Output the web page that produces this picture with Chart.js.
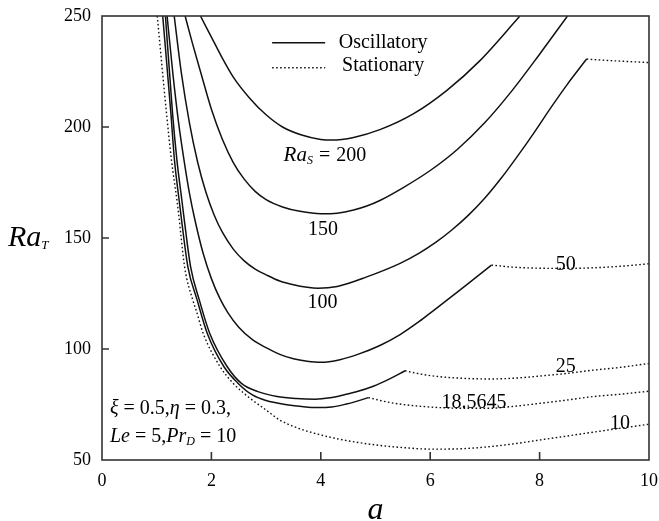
<!DOCTYPE html>
<html><head><meta charset="utf-8">
<script src="https://cdn.jsdelivr.net/npm/chart.js@4.4.0/dist/chart.umd.min.js"></script>
<style>html,body{margin:0;padding:0;background:#fff;}#wrap{width:659px;height:521px;}</style>
</head><body><div id="wrap"><canvas id="c" width="659" height="521"></canvas></div>
<script>
// ---- data (a = wave number, Ra = thermal Rayleigh number) ----
const xTicks = [0, 2, 4, 6, 8, 10];
const yTicks = [50, 100, 150, 200, 250];

const osc200_a  = [1.80, 2.0, 2.2, 2.4, 2.7, 3.0, 3.3, 3.65, 4.0, 4.2, 4.6, 5.08, 5.69, 6.30, 6.91, 7.64];
const osc200_Ra = [250, 240.5, 231, 222.5, 213, 205.5, 200, 196.4, 194.4, 194.1, 195.3, 198.8, 205.9, 216.4, 229.9, 250];

const osc150_a  = [1.52, 1.65, 1.8, 2.0, 2.2, 2.4, 2.6, 2.8, 3.0, 3.3, 3.62, 4.0, 4.3, 4.6, 4.84, 5.08, 5.5, 6.0, 6.5, 7.0, 7.5, 8.0, 8.51];
const osc150_Ra = [250, 238, 225, 208, 194.5, 184, 176.5, 171, 167.3, 164, 162, 160.9, 161.2, 162.6, 164.4, 166.9, 172.6, 180.4, 190, 202, 216.5, 232.8, 250];

const osc100_a  = [1.32, 1.45, 1.6, 1.75, 1.9, 2.05, 2.2, 2.4, 2.6, 2.8, 3.0, 3.25, 3.5, 3.75, 3.95, 4.3, 4.84, 5.45, 5.8, 6.1, 6.4, 6.7, 7.0, 7.3, 7.6, 7.9, 8.2, 8.5, 8.86];
const osc100_Ra = [250, 224.5, 201.6, 184, 170.6, 160.4, 152.6, 145, 139.7, 136, 133.4, 130.6, 128.9, 127.8, 127.4, 128.2, 132.5, 138.6, 143.2, 148, 153.7, 160.3, 168, 177, 187, 197.5, 208.5, 219, 230.6];
const stat100_a  = [8.86, 9.3, 9.7, 10];
const stat100_Ra = [230.6, 229.9, 229.4, 229];

const osc50_a  = [1.19, 1.3, 1.4, 1.5, 1.6, 1.7, 1.85, 2.0, 2.15, 2.3, 2.5, 2.75, 3.0, 3.25, 3.5, 3.75, 4.0, 4.35, 4.7, 5.08, 5.45, 5.8, 6.06, 6.4, 6.67, 7.12];
const osc50_Ra = [250, 223, 202, 185, 170, 158, 143, 131.7, 123, 116.4, 109.8, 104.2, 100.6, 97.6, 95.6, 94.5, 94.0, 95.2, 97.8, 101.6, 106.5, 112.4, 117.3, 123.8, 129, 137.8];
const stat50_a  = [7.12, 7.5, 8.0, 8.5, 9.0, 9.5, 10];
const stat50_Ra = [137.8, 136.9, 136.4, 136.3, 136.6, 137.3, 138.4];

const osc25_a  = [1.16, 1.29, 1.37, 1.46, 1.49, 1.62, 1.78, 1.97, 2.29, 2.55, 2.85, 3.2, 3.55, 3.9, 4.17, 4.35, 4.65, 4.96, 5.25, 5.54];
const osc25_Ra = [250, 206, 185, 167, 161, 137, 122, 107, 92, 84.5, 80.8, 78.6, 77.7, 77.4, 78.0, 78.9, 80.7, 83.2, 86.4, 90.2];
const stat25_a  = [5.54, 5.85, 6.18, 6.6, 7.09, 7.5, 8.0, 8.5, 8.92, 9.5, 10];
const stat25_Ra = [90.2, 88.6, 87.5, 86.8, 86.5, 86.8, 87.8, 89.0, 90.3, 91.8, 93.5];

const osc18_a  = [1.11, 1.26, 1.325, 1.41, 1.44, 1.57, 1.74, 1.925, 2.23, 2.49, 2.75, 3.0, 3.35, 3.65, 3.95, 4.2, 4.45, 4.65, 4.87];
const osc18_Ra = [250, 206, 185, 167, 161, 137, 122, 107, 92, 84.5, 79.3, 76.8, 75.0, 74.1, 73.6, 73.9, 75.1, 76.4, 78.1];
const stat18_a  = [4.87, 5.2, 5.57, 6.18, 6.6, 7.09, 7.5, 8.0, 8.5, 8.92, 9.5, 10];
const stat18_Ra = [78.1, 76.2, 74.8, 73.6, 73.3, 73.3, 74.1, 75.5, 77.0, 78.4, 79.7, 81.0];

const stat10_a  = [1.01, 1.18, 1.27, 1.37, 1.40, 1.51, 1.66, 1.72, 1.85, 2.16, 2.40, 2.67, 3.0, 3.25, 3.6, 3.86, 4.35, 5.0, 5.5, 6.0, 6.5, 7.0, 7.5, 8.0, 8.5, 9.0, 9.5, 10];
const stat10_Ra = [250, 206, 185, 167, 161, 137, 122, 117.6, 107, 92, 84.5, 78.5, 72.5, 68, 64.2, 62.2, 59.3, 56.8, 55.6, 54.9, 55.0, 55.8, 57.2, 59.0, 60.8, 62.6, 64.4, 66.1];

const curveLabels = ['200', '150', '100', '50', '25', '18.5645', '10'];
const legendLabels = ['Oscillatory', 'Stationary'];

// ---- styling ----
const SERIF = '"Liberation Serif", "Times New Roman", Times, serif';
const INK = '#111';
function pts(a, r) { return a.map((x, i) => ({x: x, y: r[i]})); }
function solidSet(a, r) {
  return {data: pts(a, r), showLine: true, pointRadius: 0, borderColor: INK, borderWidth: 1.5,
          cubicInterpolationMode: 'monotone', fill: false};
}
function dotSet(a, r) {
  return {data: pts(a, r), showLine: true, pointRadius: 0, borderColor: INK, borderWidth: 1.4,
          borderDash: [1.6, 2.4], cubicInterpolationMode: 'monotone', fill: false};
}

function rich(ctx, x, y, parts, align) {
  let w = 0;
  parts.forEach(p => { ctx.font = p[1] + ' ' + p[2] + 'px ' + SERIF; p.w = ctx.measureText(p[0]).width + (p[4] || 0); w += p.w; });
  let cx = align === 'center' ? x - w / 2 : (align === 'right' ? x - w : x);
  ctx.textAlign = 'left'; ctx.textBaseline = 'alphabetic';
  parts.forEach(p => { ctx.font = p[1] + ' ' + p[2] + 'px ' + SERIF; ctx.fillText(p[0], cx, y + (p[3] || 0)); cx += p.w; });
}

const decor = {
  id: 'decor',
  afterDraw(chart) {
    const ctx = chart.ctx, ca = chart.chartArea, xs = chart.scales.x, ys = chart.scales.y;
    const X = v => xs.getPixelForValue(v), Y = v => ys.getPixelForValue(v);
    ctx.save();
    ctx.strokeStyle = '#333'; ctx.lineWidth = 1.6; ctx.setLineDash([]);
    ctx.strokeRect(ca.left, ca.top, ca.right - ca.left, ca.bottom - ca.top);
    ctx.beginPath();
    xTicks.slice(1, -1).forEach(v => { ctx.moveTo(X(v), ca.bottom); ctx.lineTo(X(v), ca.bottom - 8); });
    yTicks.slice(1, -1).forEach(v => { ctx.moveTo(ca.left, Y(v)); ctx.lineTo(ca.left + 7, Y(v)); });
    ctx.stroke();

    ctx.fillStyle = '#000';
    rich(ctx, X(3.32), Y(184.7), [['Ra', 'italic', 21], ['S', 'italic', 12, 3, 6], ['=', 'normal', 20, 0, 6], [curveLabels[0], 'normal', 20]], 'left');
    rich(ctx, X(4.04), Y(151.4), [[curveLabels[1], 'normal', 20]], 'center');
    rich(ctx, X(4.03), Y(118.5), [[curveLabels[2], 'normal', 20]], 'center');
    rich(ctx, X(8.48), Y(135.6), [[curveLabels[3], 'normal', 20]], 'center');
    rich(ctx, X(8.48), Y(89.6), [[curveLabels[4], 'normal', 20]], 'center');
    rich(ctx, X(6.80), Y(73.4), [[curveLabels[5], 'normal', 20]], 'center');
    rich(ctx, X(9.47), Y(64.0), [[curveLabels[6], 'normal', 20]], 'center');

    ctx.strokeStyle = INK; ctx.lineWidth = 1.5;
    ctx.beginPath(); ctx.moveTo(X(3.11), Y(238)); ctx.lineTo(X(4.08), Y(238)); ctx.stroke();
    ctx.setLineDash([1.6, 2.4]); ctx.lineWidth = 1.4;
    ctx.beginPath(); ctx.moveTo(X(3.11), Y(226.7)); ctx.lineTo(X(4.08), Y(226.7)); ctx.stroke();
    ctx.setLineDash([]);
    rich(ctx, X(5.14), Y(235.6), [[legendLabels[0], 'normal', 20]], 'center');
    rich(ctx, X(5.14), Y(225.2), [[legendLabels[1], 'normal', 20]], 'center');

    rich(ctx, X(0.146), Y(70.7), [['\u03BE', 'italic', 20], [' = 0.5,', 'normal', 20], ['\u03B7', 'italic', 20], [' = 0.3,', 'normal', 20]], 'left');
    rich(ctx, X(0.146), Y(58.1), [['Le', 'italic', 20], [' = 5,', 'normal', 20], ['Pr', 'italic', 20], ['D', 'italic', 12, 3], [' = 10', 'normal', 20]], 'left');

    rich(ctx, 8, 246, [['Ra', 'italic', 30], ['T', 'italic', 13, 3]], 'left');
    rich(ctx, (ca.left + ca.right) / 2, 519, [['a', 'italic', 32]], 'center');
    ctx.restore();
  }
};

const tickFont = {family: SERIF, size: 18};
new Chart(document.getElementById('c'), {
  type: 'scatter',
  data: {datasets: [
    solidSet(osc200_a, osc200_Ra),
    solidSet(osc150_a, osc150_Ra),
    solidSet(osc100_a, osc100_Ra), dotSet(stat100_a, stat100_Ra),
    solidSet(osc50_a, osc50_Ra), dotSet(stat50_a, stat50_Ra),
    solidSet(osc25_a, osc25_Ra), dotSet(stat25_a, stat25_Ra),
    solidSet(osc18_a, osc18_Ra), dotSet(stat18_a, stat18_Ra),
    dotSet(stat10_a, stat10_Ra)
  ]},
  options: {
    responsive: false, animation: false, devicePixelRatio: 1,
    layout: {padding: {top: 16, right: 10, left: 0, bottom: 0}},
    plugins: {legend: {display: false}, tooltip: {enabled: false}},
    scales: {
      x: {type: 'linear', min: 0, max: 10,
          afterBuildTicks(s) { s.ticks = xTicks.map(v => ({value: v})); },
          ticks: {color: '#000', font: tickFont, padding: 10, maxRotation: 0, autoSkip: false},
          grid: {display: false, drawTicks: false}, border: {display: false},
          afterFit(s) { s.height = 61; s.paddingLeft = 0; s.paddingRight = 0; }},
      y: {type: 'linear', min: 50, max: 250,
          afterBuildTicks(s) { s.ticks = yTicks.map(v => ({value: v})); },
          ticks: {color: '#000', font: tickFont, padding: 11, autoSkip: false},
          grid: {display: false, drawTicks: false}, border: {display: false},
          afterFit(s) { s.width = 102; s.paddingTop = 0; s.paddingBottom = 0; }}
    }
  },
  plugins: [decor]
});
</script></body></html>
